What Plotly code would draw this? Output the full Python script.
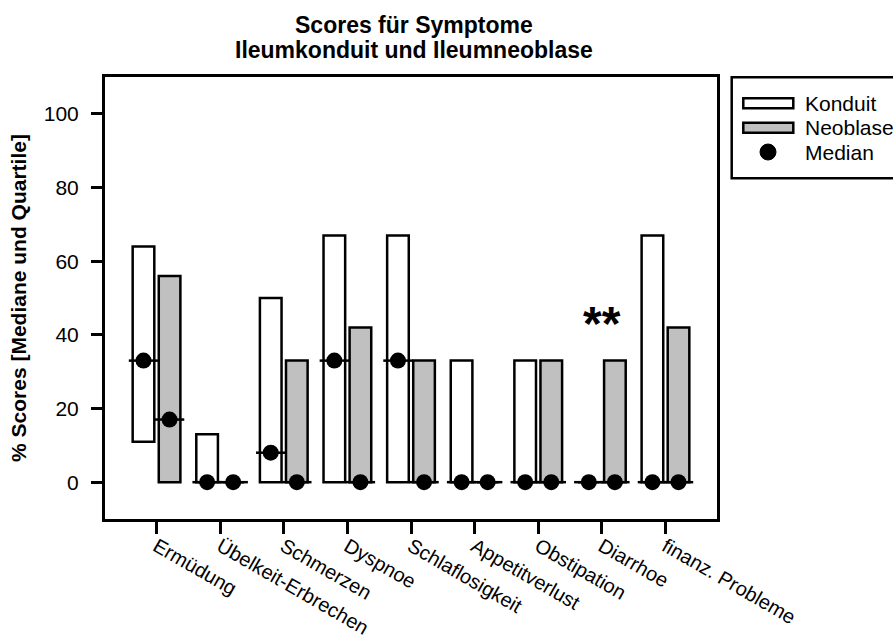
import plotly.graph_objects as go

categories = ["Ermüdung", "Übelkeit-Erbrechen", "Schmerzen", "Dyspnoe", "Schlaflosigkeit",
              "Appetitverlust", "Obstipation", "Diarrhoe", "finanz. Probleme"]
konduit_q1 = [11, 0, 0, 0, 0, 0, 0, 0, 0]
konduit_q3 = [64, 13, 50, 67, 67, 33, 33, 0, 67]
konduit_median = [33, 0, 8, 33, 33, 0, 0, 0, 0]
neoblase_q1 = [0, 0, 0, 0, 0, 0, 0, 0, 0]
neoblase_q3 = [56, 0, 33, 42, 33, 0, 33, 33, 42]
neoblase_median = [17, 0, 0, 0, 0, 0, 0, 0, 0]
sig_category = "Diarrhoe"
sig_label = "**"
sig_value = 43
y_ticks = [0, 20, 40, 60, 80, 100]
title_lines = ["Scores für Symptome", "Ileumkonduit und Ileumneoblase"]

W, H = 893, 639
PL, PR, PT, PB = 105, 717, 77, 519  # plot area in px

def px(x):
    return (x - PL) / (PR - PL)

def py(y):
    return (PB - y) / (PB - PT)

FONT = "Liberation Sans, Arial, Helvetica, sans-serif"
GRAY = "#c0c0c0"
BAR_W = 0.34
OFF_K = -0.375
OFF_N = 0.035

idx = list(range(len(categories)))
xk = [i + OFF_K + BAR_W / 2 for i in idx]
xn = [i + OFF_N + BAR_W / 2 for i in idx]

fig = go.Figure()
fig.add_trace(go.Bar(
    x=idx, y=[b - a for a, b in zip(konduit_q1, konduit_q3)], base=konduit_q1,
    width=BAR_W, offset=OFF_K, name="Konduit",
    marker=dict(color="white", line=dict(color="black", width=2.5)),
    showlegend=False))
fig.add_trace(go.Bar(
    x=idx, y=[b - a for a, b in zip(neoblase_q1, neoblase_q3)], base=neoblase_q1,
    width=BAR_W, offset=OFF_N, name="Neoblase",
    marker=dict(color=GRAY, line=dict(color="black", width=2.5)),
    showlegend=False))
for xs, med in ((xk, konduit_median), (xn, neoblase_median)):
    fig.add_trace(go.Scatter(
        x=xs, y=med, mode="markers", showlegend=False, hoverinfo="skip",
        marker=dict(symbol="line-ew", size=21, color="black",
                    line=dict(color="black", width=2.5))))
    fig.add_trace(go.Scatter(
        x=xs, y=med, mode="markers", name="Median", showlegend=False,
        marker=dict(symbol="circle", size=16, color="black")))

fig.add_annotation(x=categories.index(sig_category), y=sig_value, text="<b>" + sig_label + "</b>",
                   showarrow=False, xref="x", yref="y",
                   font=dict(family=FONT, size=48, color="black"),
                   xanchor="center", yanchor="middle")

# title (two lines)
for line, yc in zip(title_lines, (25.5, 50)):
    fig.add_annotation(text="<b>" + line + "</b>",
                       xref="paper", yref="paper", x=px(414), y=py(yc),
                       xanchor="center", yanchor="middle", showarrow=False,
                       font=dict(family=FONT, size=23, color="black"))

# custom legend
fig.add_shape(type="rect", xref="paper", yref="paper",
              x0=px(731.7), x1=px(900), y0=py(178.3), y1=py(77.3),
              line=dict(color="black", width=2.5), fillcolor="white", layer="below")
fig.add_shape(type="rect", xref="paper", yref="paper",
              x0=px(743.3), x1=px(793.3), y0=py(108.3), y1=py(98.3),
              line=dict(color="black", width=2.5), fillcolor="white")
fig.add_shape(type="rect", xref="paper", yref="paper",
              x0=px(743.3), x1=px(793.3), y0=py(132.7), y1=py(122.7),
              line=dict(color="black", width=2.5), fillcolor=GRAY)
fig.add_shape(type="circle", xref="paper", yref="paper",
              x0=px(760), x1=px(776), y0=py(160), y1=py(144),
              line=dict(color="black", width=1), fillcolor="black")
for label, yc in (("Konduit", 103), ("Neoblase", 127.5), ("Median", 152)):
    fig.add_annotation(text=label, xref="paper", yref="paper", x=px(803), y=py(yc),
                       xanchor="left", yanchor="middle", showarrow=False,
                       font=dict(family=FONT, size=21, color="black"))

fig.update_layout(
    width=W, height=H,
    margin=dict(l=PL, r=W - PR, t=PT, b=H - PB, autoexpand=False),
    paper_bgcolor="white", plot_bgcolor="white",
    font=dict(family=FONT, size=21, color="black"),
    showlegend=False,
    barmode="overlay",
)
fig.update_xaxes(range=[-0.81, 8.81], tickmode="array", tickvals=idx, ticktext=categories,
                 tickangle=30, ticks="outside", ticklen=12, tickwidth=3, tickcolor="black",
                 ticklabelstandoff=-7,
                 showline=True, linewidth=3, linecolor="black", mirror=True,
                 showgrid=False, zeroline=False, automargin=False,
                 tickfont=dict(family=FONT, size=20, color="black"))
fig.update_yaxes(range=[-10, 110], tickmode="array", tickvals=y_ticks,
                 ticks="outside", ticklen=11, tickwidth=3, tickcolor="black",
                 ticklabelstandoff=8, automargin=False,
                 showline=True, linewidth=3, linecolor="black", mirror=True,
                 showgrid=False, zeroline=False,
                 tickfont=dict(family=FONT, size=21, color="black"),
                 title=dict(text="<b>% Scores [Mediane und Quartile]</b>", standoff=12,
                            font=dict(family=FONT, size=21, color="black")))

fig.write_html("out.html")
